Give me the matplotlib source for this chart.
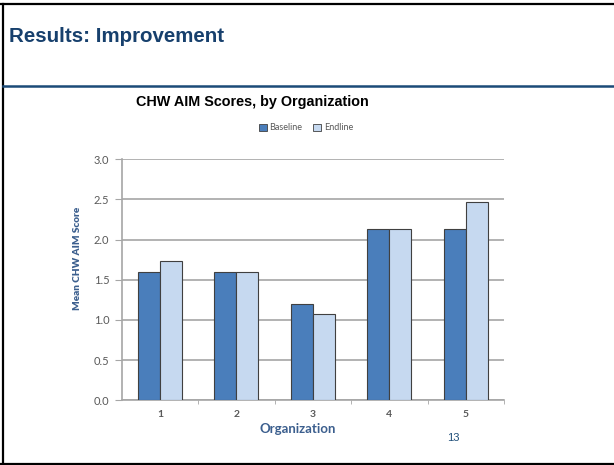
import numpy as np
import matplotlib.pyplot as plt
from matplotlib.patches import Patch
from matplotlib.lines import Line2D

# data
organizations = ['1', '2', '3', '4', '5']
baseline = [1.60, 1.60, 1.20, 2.13, 2.13]
endline = [1.73, 1.60, 1.07, 2.13, 2.47]
y_ticks = [0.0, 0.5, 1.0, 1.5, 2.0, 2.5, 3.0]

navy = '#17406D'
axis_blue = '#3C5F8E'
grid_gray = '#A6A6A6'
label_gray = '#595959'
base_color = '#4A7EBB'
end_color = '#C6D9F0'

W, H = 614, 465
fig = plt.figure(figsize=(W / 100, H / 100), dpi=100)


def px(x, y):
    # pixel position (from top-left) -> figure fraction
    return x / W, 1 - y / H


# slide frame: top, left, bottom
fig.add_artist(Line2D([px(0, 4)[0], 1], [px(0, 4)[1]] * 2, color='black', lw=1.6))
fig.add_artist(Line2D([px(2.5, 0)[0]] * 2, [px(0, 4)[1], px(0, 463.5)[1]], color='black', lw=1.6))
fig.add_artist(Line2D([px(0, 0)[0], 1], [px(0, 463.5)[1]] * 2, color='black', lw=1.6))
# blue rule under the heading
fig.add_artist(Line2D([px(2.5, 0)[0], 1], [px(0, 86)[1]] * 2, color='#1B4A78', lw=1.8))

# slide heading
fig.text(*px(9, 36), 'Results: Improvement', family='Liberation Sans', weight='bold',
         fontsize=14.8, color=navy, va='center', ha='left')

# chart title
fig.text(*px(252, 102), 'CHW AIM Scores, by Organization', family='Liberation Sans',
         weight='bold', fontsize=10.4, color='black', ha='center', va='center')

# plot area
l, b = px(121.7, 400.3)
r, t = px(504, 159.3)
ax = fig.add_axes([l, b, r - l, t - b])

x = np.arange(len(organizations))
w = 0.288
ax.bar(x - w / 2, baseline, w, color=base_color, edgecolor='#404040', linewidth=0.8, zorder=3)
ax.bar(x + w / 2, endline, w, color=end_color, edgecolor='#404040', linewidth=0.8, zorder=3)

ax.set_xlim(-0.5, len(organizations) - 0.5)
ax.set_ylim(0, 3.0)
ax.set_yticks(y_ticks)
ax.set_yticklabels([f'{v:.1f}' for v in y_ticks], family='Lato', fontsize=8, color=label_gray)
ax.set_xticks(x)
ax.set_xticklabels(organizations, family='Lato', weight='bold', fontsize=7.5, color=label_gray)
ax.set_xticks(np.arange(0.5, len(organizations), 1.0), minor=True)
ax.tick_params(axis='x', which='major', length=0, pad=7)
ax.tick_params(axis='x', which='minor', length=3, color=grid_gray, direction='out')
ax.tick_params(axis='y', length=5, color=grid_gray, pad=4)

ax.yaxis.grid(True, color=grid_gray, lw=1.2, zorder=0)
ax.set_axisbelow(True)
for s in ['top', 'right']:
    ax.spines[s].set_visible(False)
for s in ['left', 'bottom']:
    ax.spines[s].set_color(grid_gray)
    ax.spines[s].set_linewidth(1.2)

fig.text(*px(298, 429), 'Organization', family='Lato', weight='bold', fontsize=9.5,
         color=axis_blue, ha='center', va='center')
fig.text(*px(78, 258), 'Mean CHW AIM Score', family='Lato', weight='heavy', fontsize=7.2,
         color=axis_blue, ha='center', va='center', rotation=90)

# legend
handles = [Patch(facecolor=base_color, edgecolor='#404040', lw=0.6, label='Baseline'),
           Patch(facecolor=end_color, edgecolor='#404040', lw=0.6, label='Endline')]
fig.legend(handles=handles, loc='center', bbox_to_anchor=px(306, 128), ncol=2, frameon=False,
           prop={'family': 'Lato', 'size': 6.5}, labelcolor=label_gray,
           handlelength=0.9, handleheight=0.9, handletextpad=0.3, columnspacing=1.2)

# page number
fig.text(*px(453, 438), '13', family='Liberation Sans', fontsize=8, color='#1F4E79',
         ha='center', va='center')

fig.savefig('out.png', dpi=100)
